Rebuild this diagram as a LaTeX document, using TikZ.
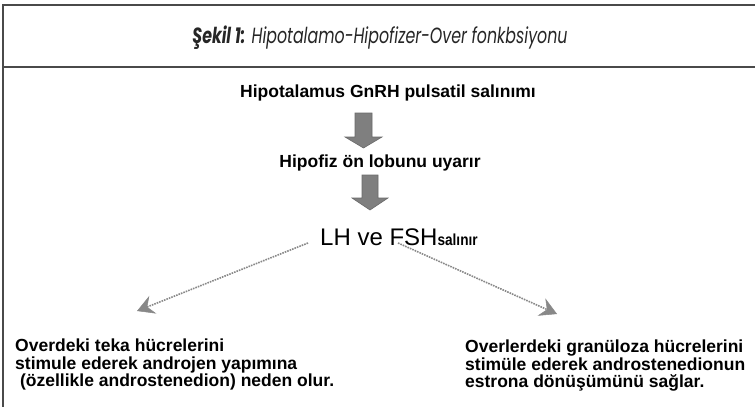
\documentclass[tikz,border=0pt]{standalone}
\usepackage{fontspec}
\usepackage{graphicx}
\setmainfont{Liberation Sans}
\newfontfamily\titlefont{Poppins}
\usetikzlibrary{arrows.meta}
\definecolor{framegray}{HTML}{4A4A4A}
\definecolor{arrowgray}{HTML}{7F7F7F}
\definecolor{arrowedge}{HTML}{6A6A6A}
\definecolor{dotgray}{HTML}{888888}
\tikzset{
  frameline/.style={draw=framegray, line width=1.6pt},
  bodytext/.style={font=\fontsize{17.5}{17.5}\selectfont\bfseries, inner sep=0pt, text=black},
  blockarrow/.style={fill=arrowgray, draw=arrowedge, line width=0.6pt},
  dotarrow/.style={draw=dotgray, line width=1.6pt, densely dotted, -{Stealth[length=17pt,width=19pt,inset=6pt,fill=dotgray,line width=0.5pt]}},
}
\begin{document}
\begin{tikzpicture}[x=1pt,y=-1pt]
\useasboundingbox (0,0) rectangle (755,407);
% frame
\draw[frameline] (755,5) -- (3,5) -- (3,407);
\draw[frameline] (3,67) -- (755,67);
% title
\node[inner sep=0pt, font=\titlefont\fontsize{22}{24}\selectfont\itshape, text=black!85] (title) at (380,38)
  {\scalebox{0.72}[1]{\textbf{Şekil 1:} Hipotalamo-Hipofizer-Over fonkbsiyonu}};
% texts
\node[bodytext] (hyp) at (388,93) {Hipotalamus GnRH pulsatil salınımı};
\node[bodytext] (hipofiz) at (380,163) {Hipofiz ön lobunu uyarır};
\node[inner sep=0pt, anchor=base west] (lh) at (320,245) {\fontsize{24}{26}\selectfont LH ve FSH\fontsize{16}{17}\selectfont\bfseries\scalebox{0.85}[1]{salınır}};
% block arrows
\draw[blockarrow] (355,113) -- (372,113) -- (372,137) -- (382,137) -- (363.5,148) -- (345,137) -- (355,137) -- cycle;
\draw[blockarrow] (362,175) -- (378,175) -- (378,198) -- (388,198) -- (370,210) -- (352,198) -- (362,198) -- cycle;
% bottom texts
\node[bodytext, anchor=north west, align=left] (left) at (15,339)
  {Overdeki teka hücrelerini\\
   stimule ederek androjen yapımına\\
   ~(özellikle androstenedion) neden olur.};
\node[bodytext, anchor=north west, align=left] (right) at (465,340)
  {Overlerdeki granüloza hücrelerini\\
   stimüle ederek androstenedionun\\
   estrona dönüşümünü sağlar.};
% dotted connectors
\coordinate (lstart) at (308,243);
\coordinate (lend) at (137,311);
\coordinate (rstart) at (398,243);
\coordinate (rend) at (557,314);
\draw[dotarrow] (lstart) -- (lend);
\draw[dotarrow] (rstart) -- (rend);
\end{tikzpicture}
\end{document}
